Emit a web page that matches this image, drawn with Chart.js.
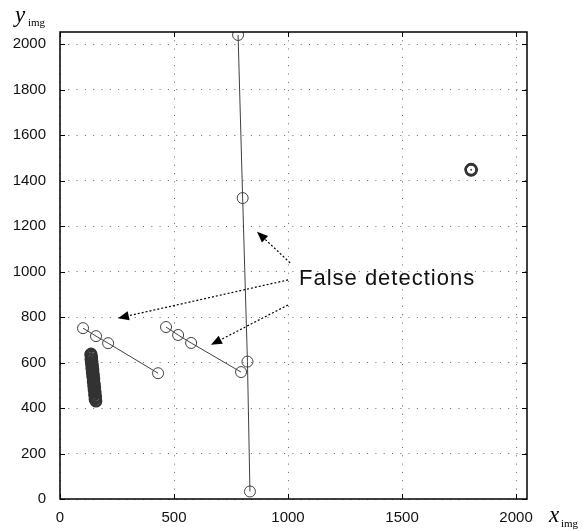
<!DOCTYPE html>
<html lang="en">
<head>
    <meta charset="UTF-8">
    <title>False detections</title>
    <script src="https://cdn.jsdelivr.net/npm/chart.js"></script>
    <style>
        body { margin: 0; background: #fff; }
        #wrap { width: 584px; height: 531px; }
    </style>
</head>
<body>
    <div id="wrap"><canvas id="plot" width="584" height="531"></canvas></div>

    <script>
        // data (image coordinates, pixels)
        var xTicks = [0, 500, 1000, 1500, 2000];
        var yTicks = [0, 200, 400, 600, 800, 1000, 1200, 1400, 1600, 1800, 2000];

        var track1 = [[781, 2040], [801, 1323], [822, 604], [833, 33]];
        var track2 = [[101, 751], [158, 716], [211, 685], [430, 553]];
        var track3 = [[465, 756], [518, 721], [575, 686], [794, 558]];
        var cluster = [[136, 638], [134, 634], [137, 630], [139, 626], [138, 619], [135, 614],
                       [139, 611], [141, 605], [139, 600], [137, 596], [141, 592], [143, 586],
                       [141, 580], [139, 575], [142, 571], [145, 566], [144, 561], [141, 557],
                       [144, 553], [147, 547], [145, 541], [143, 537], [147, 533], [149, 527],
                       [147, 522], [145, 517], [148, 512], [151, 507], [150, 503], [147, 498],
                       [150, 494], [153, 489], [151, 483], [149, 479], [153, 474], [155, 468],
                       [153, 463], [151, 458], [155, 452], [157, 448], [155, 444], [153, 439],
                       [157, 433], [158, 430]];
        var blob = [[1803, 1447], [1805, 1449], [1801, 1446], [1804, 1445], [1802, 1450]];

        var labelText = 'False detections';
        var labelAt = [1048, 941];
        var arrows = [
            [[1009, 1038], [864, 1175]],
            [[1000, 963], [254, 795]],
            [[1000, 853], [662, 678]]
        ];

        var ink = '#404040';

        function pts(list) {
            return list.map(function (p) { return { x: p[0], y: p[1] }; });
        }

        function track(list, width, color) {
            return {
                data: pts(list),
                showLine: true,
                borderColor: color || ink,
                borderWidth: 1,
                pointRadius: 5.5,
                pointBorderColor: color || ink,
                pointBackgroundColor: 'rgba(0,0,0,0)',
                pointBorderWidth: width || 1
            };
        }

        var frame = {
            id: 'frame',
            afterDraw: function (chart) {
                var ctx = chart.ctx, a = chart.chartArea;
                var xs = chart.scales.x, ys = chart.scales.y;
                ctx.save();
                ctx.strokeStyle = '#000';
                ctx.lineWidth = 1.5;
                ctx.strokeRect(a.left, a.top, a.right - a.left, a.bottom - a.top);

                // inward ticks on all four sides
                ctx.lineWidth = 1;
                ctx.beginPath();
                xTicks.forEach(function (v) {
                    var px = Math.round(xs.getPixelForValue(v)) + 0.5;
                    ctx.moveTo(px, a.bottom); ctx.lineTo(px, a.bottom - 5);
                    ctx.moveTo(px, a.top); ctx.lineTo(px, a.top + 5);
                });
                yTicks.forEach(function (v) {
                    var py = Math.round(ys.getPixelForValue(v)) + 0.5;
                    ctx.moveTo(a.left, py); ctx.lineTo(a.left + 5, py);
                    ctx.moveTo(a.right, py); ctx.lineTo(a.right - 5, py);
                });
                ctx.stroke();

                // annotation arrows
                ctx.fillStyle = '#000';
                arrows.forEach(function (ar) {
                    var x0 = xs.getPixelForValue(ar[0][0]), y0 = ys.getPixelForValue(ar[0][1]);
                    var x1 = xs.getPixelForValue(ar[1][0]), y1 = ys.getPixelForValue(ar[1][1]);
                    var ang = Math.atan2(y1 - y0, x1 - x0);
                    var hl = 11, hw = 4.5;
                    var bx = x1 - hl * Math.cos(ang), by = y1 - hl * Math.sin(ang);
                    ctx.save();
                    ctx.setLineDash([2, 2]);
                    ctx.lineWidth = 1.2;
                    ctx.beginPath();
                    ctx.moveTo(x0, y0); ctx.lineTo(bx, by);
                    ctx.stroke();
                    ctx.restore();
                    ctx.beginPath();
                    ctx.moveTo(x1, y1);
                    ctx.lineTo(bx + hw * Math.sin(ang), by - hw * Math.cos(ang));
                    ctx.lineTo(bx - hw * Math.sin(ang), by + hw * Math.cos(ang));
                    ctx.closePath();
                    ctx.fill();
                });

                // annotation text
                ctx.fillStyle = '#111';
                ctx.font = '22px "Liberation Sans", Arial, sans-serif';
                ctx.letterSpacing = '1px';
                ctx.textBaseline = 'alphabetic';
                ctx.fillText(labelText, xs.getPixelForValue(labelAt[0]), ys.getPixelForValue(labelAt[1]));
                ctx.letterSpacing = '0px';

                // axis titles with subscripts
                ctx.fillStyle = '#000';
                ctx.font = 'italic 23px "Liberation Serif", serif';
                ctx.fillText('y', 15, 22);
                ctx.font = '11px "Liberation Serif", serif';
                ctx.fillText('img', 28, 26);

                ctx.font = 'italic 23px "Liberation Serif", serif';
                ctx.fillText('x', 549, 522);
                ctx.font = '11px "Liberation Serif", serif';
                ctx.fillText('img', 561, 527);
                ctx.restore();
            }
        };

        function fixTicks(list) {
            return function (scale) {
                scale.ticks = list.map(function (v) { return { value: v }; });
            };
        }

        function plain(v) { return String(v); }

        var gridStyle = {
            color: 'rgba(0,0,0,0.6)',
            lineWidth: 1,
            drawTicks: false
        };

        var plot = new Chart(document.getElementById('plot').getContext('2d'), {
            type: 'scatter',
            data: {
                datasets: [
                    track(track1), track(track2), track(track3),
                    track(cluster, 1.6, '#333'), track(blob, 1.6, '#333')
                ]
            },
            options: {
                responsive: false,
                animation: false,
                devicePixelRatio: 1,
                layout: { padding: { top: 32, right: 57, left: 0, bottom: 0 } },
                plugins: {
                    legend: { display: false },
                    tooltip: { enabled: false }
                },
                scales: {
                    x: {
                        type: 'linear',
                        min: 0,
                        max: 2048,
                        afterBuildTicks: fixTicks(xTicks),
                        afterFit: function (s) { s.height = 32; },
                        grid: gridStyle,
                        border: { display: false, dash: [1, 7.3] },
                        ticks: {
                            padding: 10,
                            color: '#111',
                            maxRotation: 0,
                            callback: plain,
                            font: { family: '"Liberation Sans", Arial, sans-serif', size: 15 }
                        }
                    },
                    y: {
                        type: 'linear',
                        min: 0,
                        max: 2053,
                        afterBuildTicks: fixTicks(yTicks),
                        afterFit: function (s) { s.width = 60; },
                        grid: gridStyle,
                        border: { display: false, dash: [1, 7.3] },
                        ticks: {
                            padding: 14,
                            color: '#111',
                            callback: plain,
                            font: { family: '"Liberation Sans", Arial, sans-serif', size: 15 }
                        }
                    }
                }
            },
            plugins: [frame]
        });
    </script>
</body>
</html>
